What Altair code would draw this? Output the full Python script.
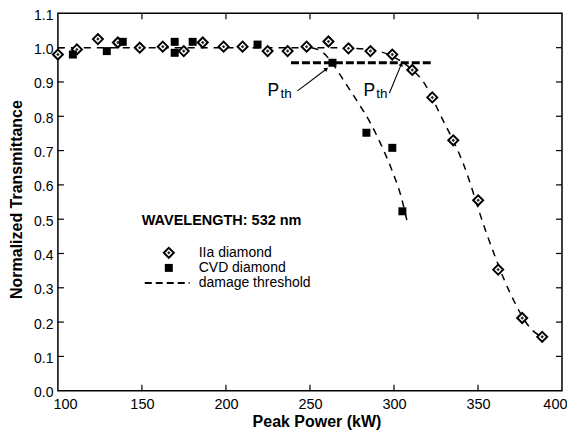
import altair as alt
import pandas as pd

# ---------------- data ----------------
iia_x = [100, 111.3, 123.8, 135.7, 148.7, 162.4, 174.9, 186.2, 198.6, 209.9, 224.8, 236.7,
         248, 261, 272.9, 286, 299, 310.9, 322.8, 335.3, 350.1, 362, 376.3, 388.2]
iia_y = [0.98, 0.995, 1.025, 1.015, 1.0, 1.003, 0.99, 1.015, 1.003, 1.003, 0.99, 0.99,
         1.003, 1.018, 0.998, 0.99, 0.98, 0.935, 0.855, 0.73, 0.555, 0.353, 0.212, 0.157]

cvd_x = [108.9, 129.1, 138.6, 169.5, 169.5, 180.2, 218.8, 263.4, 283.6, 299, 305]
cvd_y = [0.98, 0.99, 1.017, 1.017, 0.985, 1.017, 1.009, 0.956, 0.752, 0.708, 0.523]

iia_fit_x = [100, 200, 262, 280, 287, 299, 311, 317, 328, 341, 355, 369, 382, 388]
iia_fit_y = [1.0, 1.0, 1.0, 0.997, 0.994, 0.975, 0.935, 0.904, 0.80, 0.665, 0.46, 0.286, 0.178, 0.157]

cvd_fit_x = [251, 258, 264, 270, 278, 286, 293, 299, 304, 308]
cvd_fit_y = [1.0, 0.985, 0.95, 0.905, 0.845, 0.78, 0.71, 0.64, 0.57, 0.49]

thr_x = [238.7, 323.2]
thr_y = [0.956, 0.956]

x_ticks = [100, 150, 200, 250, 300, 350, 400]
y_ticks = [0.0, 0.1, 0.2, 0.3, 0.4, 0.5, 0.6, 0.7, 0.8, 0.9, 1.0, 1.1]
inner_x_ticks = [150, 200, 250, 300, 350]
inner_y_ticks = [0.1, 0.2, 0.3, 0.4, 0.5, 0.6, 0.7, 0.8, 0.9, 1.0]

legend_labels = ["IIa diamond", "CVD diamond", "damage threshold"]
legend_y = [0.402, 0.358, 0.314]

W, H = 505, 378
FONT = "Liberation Sans"

xs = alt.Scale(domain=[100, 400], nice=False, zero=False)
ys = alt.Scale(domain=[0, 1.1], nice=False, zero=False)

iia = pd.DataFrame({"x": iia_x, "y": iia_y})
cvd = pd.DataFrame({"x": cvd_x, "y": cvd_y})
iia_fit = pd.DataFrame({"x": iia_fit_x, "y": iia_fit_y})
cvd_fit = pd.DataFrame({"x": cvd_fit_x, "y": cvd_fit_y})
thr = pd.DataFrame({"x": thr_x, "y": thr_y})

XAXIS = alt.Axis(values=x_ticks, title="Peak Power (kW)",
                 titleX=259, titleY=36, titleBaseline="alphabetic",
                 labelPadding=7, labelFlush=True, labelFlushOffset=5,
                 labelOverlap=False, format="d", labelFontSize=14.5)
YAXIS = alt.Axis(values=y_ticks, format=".1f", title="Normalized Transmittance",
                 titleX=-36, titleY=186, titleBaseline="alphabetic",
                 titleAngle=-90, labelPadding=5, labelOverlap=False, labelFlush=False,
                 labelOffset=2, labelFontSize=14)


def X(f="x:Q"):
    return alt.X(f, scale=xs, axis=XAXIS, title="Peak Power (kW)")


def Y(f="y:Q"):
    return alt.Y(f, scale=ys, axis=YAXIS, title="Normalized Transmittance")


base_iia_fit = alt.Chart(iia_fit).mark_line(color="black", strokeWidth=1.5, strokeDash=[7, 6],
                                            interpolate="monotone").encode(x=X(), y=Y())
base_cvd_fit = alt.Chart(cvd_fit).mark_line(color="black", strokeWidth=1.5, strokeDash=[7, 6],
                                            interpolate="monotone").encode(x=X(), y=Y())
thr_line = alt.Chart(thr).mark_line(color="black", strokeWidth=3.2, strokeDash=[8, 3]).encode(
    x=X(), y=Y())

iia_pts = alt.Chart(iia).mark_point(shape="diamond", size=100, filled=True, fill="white",
                                    stroke="black", strokeWidth=2, opacity=1).encode(x=X(), y=Y())
iia_inner = alt.Chart(iia).mark_point(shape="diamond", size=12, filled=True, color="#222",
                                      opacity=1).encode(x=X(), y=Y())
cvd_pts = alt.Chart(cvd).mark_point(shape="square", size=64, filled=True, color="black",
                                    opacity=1).encode(x=X(), y=Y())

# inward ticks
tx = pd.DataFrame({"t": inner_x_ticks})
ty = pd.DataFrame({"t": inner_y_ticks})
tick_b = alt.Chart(tx).mark_rule(color="black", strokeWidth=1.2).encode(
    x=X("t:Q"), y=alt.value(H), y2=alt.value(H - 6))
tick_t = alt.Chart(tx).mark_rule(color="black", strokeWidth=1.2).encode(
    x=X("t:Q"), y=alt.value(0), y2=alt.value(6))
tick_l = alt.Chart(ty).mark_rule(color="black", strokeWidth=1.2).encode(
    y=Y("t:Q"), x=alt.value(0), x2=alt.value(6))
tick_r = alt.Chart(ty).mark_rule(color="black", strokeWidth=1.2).encode(
    y=Y("t:Q"), x=alt.value(W), x2=alt.value(W - 6))

# annotations
arrows = pd.DataFrame({"x": [242.6, 297.3], "y": [0.874, 0.868],
                       "x2": [259.8, 304.4], "y2": [0.938, 0.952], "ang": [53, 22]})
arrow_lines = alt.Chart(arrows).mark_rule(color="black", strokeWidth=1.1).encode(
    x=X(), y=Y(), x2="x2:Q", y2="y2:Q")
arrow_heads = alt.Chart(arrows).mark_point(shape="triangle-up", size=22, filled=True,
                                           color="black", opacity=1).encode(
    x=X("x2:Q"), y=Y("y2:Q"), angle=alt.Angle("ang:Q", scale=None))

p_txt = pd.DataFrame({"x": [224.8, 281.8], "y": [0.859, 0.859], "t": ["P", "P"]})
th_txt = pd.DataFrame({"x": [232.5, 289.5], "y": [0.854, 0.854], "t": ["th", "th"]})
p_marks = alt.Chart(p_txt).mark_text(font=FONT, fontSize=17.5, align="left",
                                     baseline="alphabetic", color="black").encode(
    x=X(), y=Y(), text="t:N")
th_marks = alt.Chart(th_txt).mark_text(font=FONT, fontSize=13.5, align="left",
                                       baseline="alphabetic", color="black").encode(
    x=X(), y=Y(), text="t:N")

wl = pd.DataFrame({"x": [149.9], "y": [0.496], "t": ["WAVELENGTH: 532 nm"]})
wl_mark = alt.Chart(wl).mark_text(font=FONT, fontSize=14.5, fontWeight="bold", align="left",
                                  baseline="middle", color="black").encode(
    x=X(), y=Y(), text="t:N")

leg_txt = pd.DataFrame({"x": [183.8] * 3, "y": legend_y, "t": legend_labels})
leg_text = alt.Chart(leg_txt).mark_text(font=FONT, fontSize=14, align="left",
                                        baseline="middle", color="black").encode(
    x=X(), y=Y(), text="t:N")
leg_d = pd.DataFrame({"x": [166.0], "y": [legend_y[0]]})
leg_s = pd.DataFrame({"x": [166.0], "y": [legend_y[1]]})
leg_l = pd.DataFrame({"x": [151.7, 178.4], "y": [legend_y[2]] * 2})
leg_d1 = alt.Chart(leg_d).mark_point(shape="diamond", size=100, filled=True, fill="white",
                                     stroke="black", strokeWidth=2, opacity=1).encode(
    x=X(), y=Y())
leg_d2 = alt.Chart(leg_d).mark_point(shape="diamond", size=12, filled=True, color="#222",
                                     opacity=1).encode(x=X(), y=Y())
leg_sq = alt.Chart(leg_s).mark_point(shape="square", size=64, filled=True, color="black",
                                     opacity=1).encode(x=X(), y=Y())
leg_ln = alt.Chart(leg_l).mark_line(color="black", strokeWidth=1.8, strokeDash=[7, 4]).encode(
    x=X(), y=Y())

chart = alt.layer(
    base_iia_fit, base_cvd_fit, thr_line, iia_pts, iia_inner, cvd_pts,
    tick_b, tick_t, tick_l, tick_r,
    arrow_lines, arrow_heads, p_marks, th_marks, wl_mark,
    leg_text, leg_d1, leg_d2, leg_sq, leg_ln,
).properties(
    width=W, height=H,
    autosize=alt.AutoSizeParams(type="none"),
    padding={"left": 50, "top": 5, "right": 5, "bottom": 40},
    background="white",
).configure_view(
    stroke="black", strokeWidth=1.5
).configure_axis(
    domain=False, ticks=False, tickSize=0, grid=False,
    labelFont=FONT, labelColor="black",
    titleFont=FONT, titleFontSize=16, titleFontWeight="bold", titleColor="black",
)

chart.save("out.html", embed_options={"renderer": "svg", "actions": False})
